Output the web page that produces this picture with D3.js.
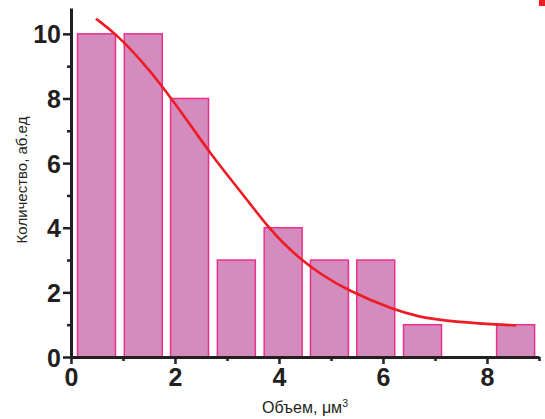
<!DOCTYPE html>
<html>
<head>
<meta charset="utf-8">
<script src="https://cdn.jsdelivr.net/npm/d3@7"></script>
<style>
  body { margin: 0; background: #fff; }
  text { font-family: "Liberation Sans", Arial, sans-serif; }
</style>
</head>
<body>
<svg></svg>
<script>
// histogram bins (centre of bar, count)
var binCenters = [0.49, 1.39, 2.28, 3.18, 4.08, 4.97, 5.86, 6.76, 7.65, 8.55];
var counts = [10, 10, 8, 3, 4, 3, 3, 1, 0, 1];

// fitted curve
var fitX = [0.48, 0.85, 1.33, 1.74, 2.29, 2.67, 3.12, 3.44, 3.79, 4.08, 4.40, 4.76, 5.33, 6.22, 6.71, 7.12, 8.19, 8.56];
var fitY = [10.47, 10.02, 9.22, 8.42, 7.2, 6.32, 5.4, 4.75, 4.03, 3.52, 3.05, 2.6, 2.05, 1.45, 1.24, 1.13, 1.0, 0.98];

var xMajor = [0, 2, 4, 6, 8];
var xMinor = [1, 3, 5, 7, 9];
var yMajor = [0, 2, 4, 6, 8, 10];
var yMinor = [1, 3, 5, 7, 9];

var xLabel = "Объем, μм";
var yLabel = "Количество, аб.ед";

var W = 545, H = 419;
var margin = { top: 8, right: 6, bottom: 62, left: 71 },
  width = W - margin.left - margin.right,
  height = H - margin.top - margin.bottom;

var svg = d3.select("svg")
  .attr("width", W)
  .attr("height", H);

var g = svg.append("g")
  .attr("transform", "translate(" + margin.left + "," + margin.top + ")");

var x = d3.scaleLinear().domain([0, 9]).range([0, width]);
var y = d3.scaleLinear().domain([0, 10.8]).range([height, 0]);

var barW = 0.73;

// bars
g.selectAll("rect.bar")
  .data(binCenters.filter(function (d, i) { return counts[i] > 0; }))
  .enter()
  .append("rect")
  .attr("class", "bar")
  .attr("x", function (d) { return x(d - barW / 2); })
  .attr("width", x(barW) - x(0))
  .attr("y", function (d) { return y(counts[binCenters.indexOf(d)]); })
  .attr("height", function (d) { return y(0) - y(counts[binCenters.indexOf(d)]); })
  .attr("fill", "#d48bbd")
  .attr("stroke", "#ec2f8c")
  .attr("stroke-width", 1.5);

// fit line
var line = d3.line()
  .x(function (d) { return x(d[0]); })
  .y(function (d) { return y(d[1]); })
  .curve(d3.curveBasis);

g.append("path")
  .datum(fitX.map(function (v, i) { return [v, fitY[i]]; }))
  .attr("d", line)
  .attr("fill", "none")
  .attr("stroke", "#ed1c24")
  .attr("stroke-width", 2.6);

// axes
var axisColor = "#231f20";

function styleAxis(sel) {
  sel.select(".domain").attr("stroke", axisColor).attr("stroke-width", 3);
  sel.selectAll(".tick line").attr("stroke", axisColor).attr("stroke-width", 2.5);
  sel.selectAll(".tick text")
    .attr("fill", axisColor)
    .style("font-size", "25px")
    .style("font-weight", "bold");
}

var xAxis = g.append("g")
  .attr("transform", "translate(0," + height + ")")
  .call(d3.axisBottom(x).tickValues(xMajor).tickSize(7).tickSizeOuter(0).tickPadding(4));
styleAxis(xAxis);

g.append("g")
  .attr("transform", "translate(0," + height + ")")
  .call(d3.axisBottom(x).tickValues(xMinor).tickSize(4).tickFormat(""))
  .call(function (s) {
    s.select(".domain").remove();
    s.selectAll(".tick line").attr("stroke", axisColor).attr("stroke-width", 2.5);
  });

var yAxis = g.append("g")
  .call(d3.axisLeft(y).tickValues(yMajor).tickSize(8).tickSizeOuter(0).tickPadding(2));
styleAxis(yAxis);
yAxis.selectAll(".tick text").attr("dy", "0.36em");

g.append("g")
  .call(d3.axisLeft(y).tickValues(yMinor).tickSize(4).tickFormat(""))
  .call(function (s) {
    s.select(".domain").remove();
    s.selectAll(".tick line").attr("stroke", axisColor).attr("stroke-width", 2.5);
  });

// axis titles
var xt = svg.append("text")
  .attr("x", 305)
  .attr("y", 413)
  .attr("text-anchor", "middle")
  .attr("fill", axisColor)
  .style("font-size", "16px");
xt.append("tspan").text(xLabel);
xt.append("tspan").attr("dy", "-6").style("font-size", "10.5px").text("3");

svg.append("text")
  .attr("transform", "translate(27,180) rotate(-90)")
  .attr("text-anchor", "middle")
  .attr("fill", axisColor)
  .style("font-size", "15px")
  .text(yLabel);

// small red marker in the top right corner
svg.append("rect")
  .attr("x", 539)
  .attr("y", 0)
  .attr("width", 6)
  .attr("height", 6)
  .attr("fill", "#ed1c24");
</script>
</body>
</html>
